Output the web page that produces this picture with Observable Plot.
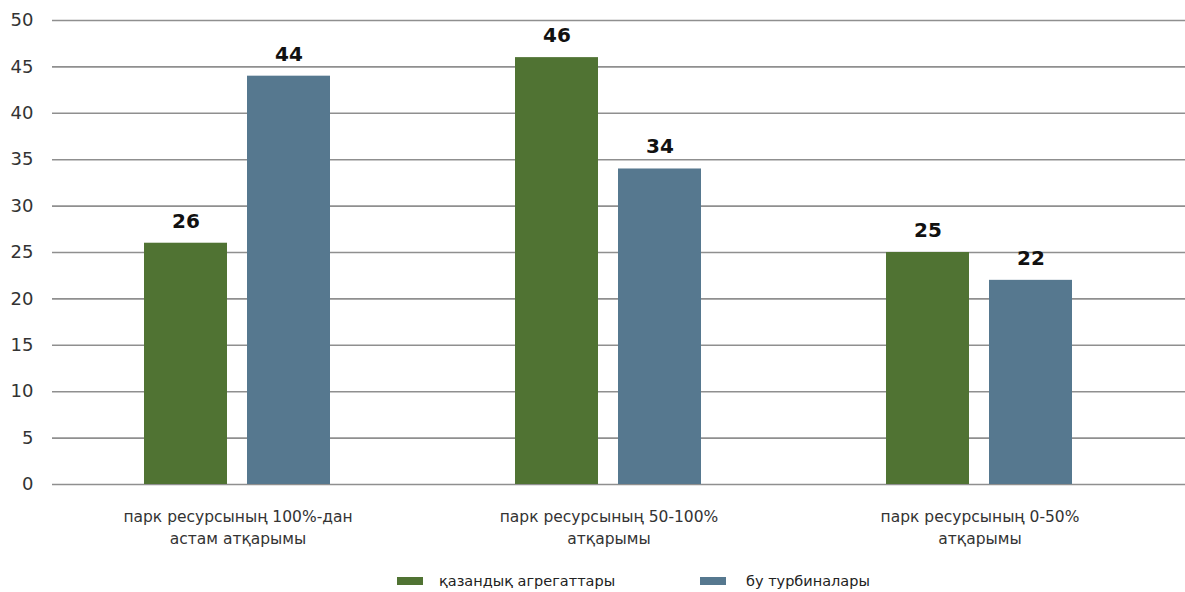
<!DOCTYPE html>
<html>
<head>
<meta charset="utf-8">
<script src="https://cdn.jsdelivr.net/npm/d3@7"></script>
<script src="https://cdn.jsdelivr.net/npm/@observablehq/plot@0.6"></script>
<style>
  html, body { margin: 0; padding: 0; background: #fff; }
  body { width: 1185px; height: 592px; overflow: hidden; font-family: "DejaVu Sans", sans-serif; }
  #wrap { position: relative; width: 1185px; height: 556px; }
  #wrap > svg { position: absolute; left: 0; top: 0; }
  #legend { display: flex; align-items: center; margin-left: 397px; margin-top: 17px; font-size: 14.5px; color: #222; }
  .item { display: flex; align-items: center; }
  .sw { width: 26px; height: 8px; margin-right: 16px; }
</style>
</head>
<body>
<div id="wrap"></div>
<div id="legend"></div>
<script>
const categories = ["парк ресурсының 100%-дан\nастам атқарымы", "парк ресурсының 50-100%\nатқарымы", "парк ресурсының 0-50%\nатқарымы"];
const series = ["қазандық агрегаттары", "бу турбиналары"];
const boilers = [26, 46, 25];
const turbines = [44, 34, 22];
const colors = ["#507333", "#56788f"];
const yTicks = [0, 5, 10, 15, 20, 25, 30, 35, 40, 45, 50];

const data = [];
categories.forEach((c, i) => {
  data.push({cat: c, series: series[0], value: boilers[i]});
  data.push({cat: c, series: series[1], value: turbines[i]});
});

const common = {
  width: 1185,
  height: 556,
  marginTop: 20,
  marginBottom: 72,
  marginLeft: 52,
  marginRight: 0,
  y: {domain: [0, 50]}
};

// background layer: grid lines spanning the full width
const grid = Plot.plot({
  ...common,
  style: {fontFamily: "DejaVu Sans, sans-serif", background: "#fff"},
  marks: [
    Plot.ruleY(yTicks, {stroke: "#8f8f8f", strokeWidth: 1.6}),
    Plot.axisY({ticks: yTicks, tickSize: 0, tickPadding: 19, fontSize: 18, fill: "#333", label: null})
  ]
});

// foreground layer: grouped bars
const chart = Plot.plot({
  ...common,
  style: {fontFamily: "DejaVu Sans, sans-serif", color: "#222", background: "transparent"},
  fx: {domain: categories, range: [52, 1165], padding: 0},
  x: {domain: series, paddingInner: 0.1923, paddingOuter: 0.88},
  color: {domain: series, range: colors},
  marks: [
    Plot.barY(data, {fx: "cat", x: "series", y: "value", fill: "series"}),
    Plot.text(data, {fx: "cat", x: "series", y: "value", text: d => String(d.value), dy: -22, fontWeight: "bold", fontSize: 20, fill: "#111"}),
    Plot.axisFx({anchor: "bottom", tickSize: 0, tickPadding: 22, fontSize: 15.5, lineHeight: 1.4, fill: "#333", label: null}),
    Plot.axisX({ticks: [], label: null}),
    Plot.axisY({ticks: [], label: null})
  ]
});
document.getElementById("wrap").appendChild(grid);
document.getElementById("wrap").appendChild(chart);

const legend = document.getElementById("legend");
series.forEach((s, i) => {
  const item = document.createElement("div");
  item.className = "item";
  if (i === 0) item.style.width = "303px";
  const sw = document.createElement("span");
  sw.className = "sw";
  sw.style.background = colors[i];
  if (i > 0) sw.style.marginRight = "20px";
  const t = document.createElement("span");
  t.textContent = s;
  item.appendChild(sw);
  item.appendChild(t);
  legend.appendChild(item);
});
</script>
</body>
</html>
